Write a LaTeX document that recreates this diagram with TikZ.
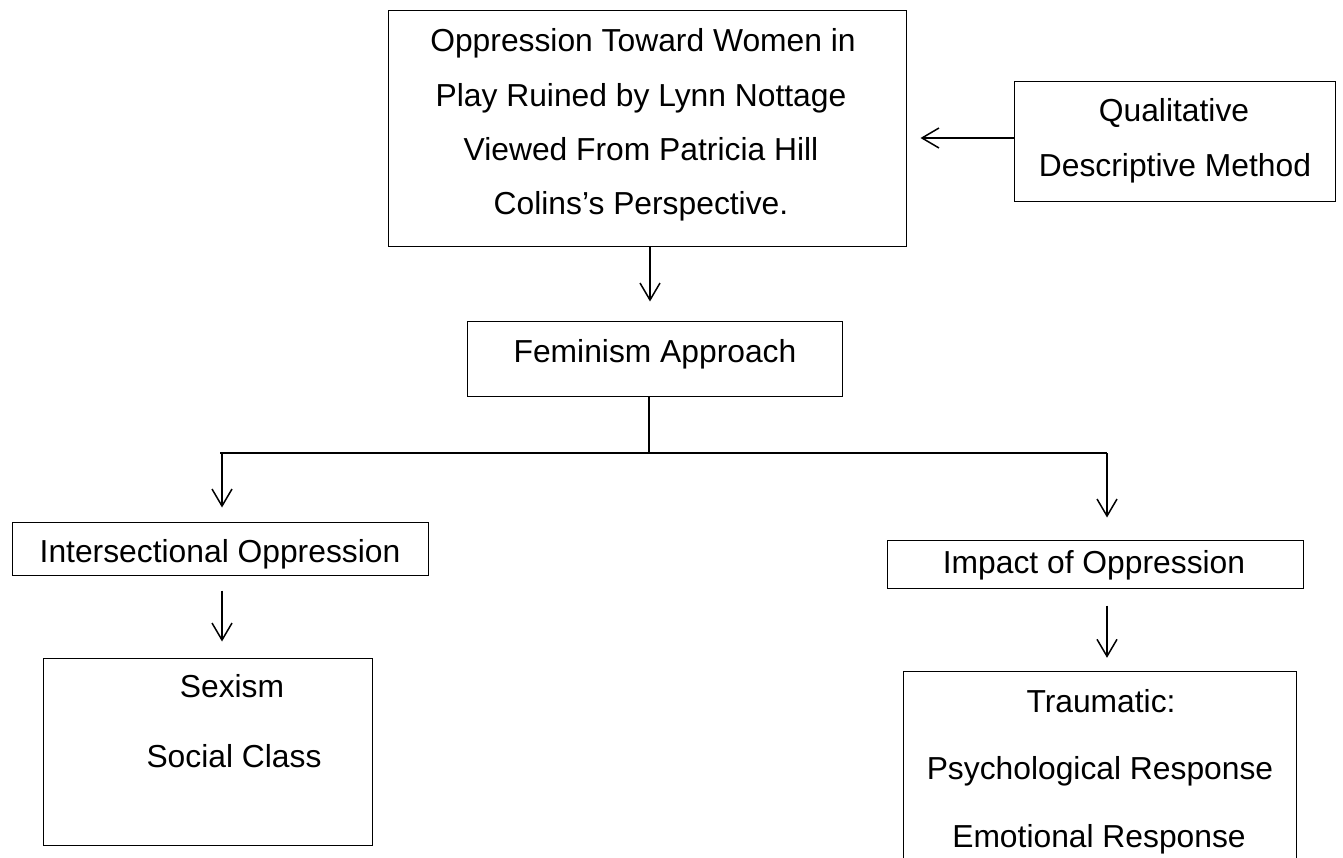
\documentclass[tikz,border=0pt]{standalone}
\usepackage{fontspec}
\setmainfont{Liberation Sans}
\usetikzlibrary{arrows.meta}
\begin{document}
\begin{tikzpicture}[x=1pt,y=-1pt,
  box/.style={draw, line width=1pt, inner sep=0pt},
  hidden/.style={inner sep=0pt},
  txt/.style={anchor=base, inner sep=0pt, font=\fontsize{31.8}{36}\selectfont},
  conn/.style={line width=1.3pt},
  arr/.style={line width=1.3pt, -{Straight Barb[length=17pt,width=20pt,line width=1.5pt]}}
]
\useasboundingbox (0,0) rectangle (1343,858);
% boxes
\node[box, minimum width=518pt, minimum height=236pt] (top) at (647,129) {};
\node[box, minimum width=321pt, minimum height=120pt] (qual) at (1174.5,142) {};
\node[box, minimum width=375pt, minimum height=74pt] (fem) at (654.5,359) {};
\node[box, minimum width=416pt, minimum height=53pt] (inter) at (220,548.5) {};
\node[box, minimum width=416pt, minimum height=48pt] (impact) at (1095,564) {};
\node[box, minimum width=329pt, minimum height=187pt] (sex) at (207.5,751.5) {};
\node[hidden, minimum width=392pt, minimum height=190pt] (trauma) at (1100,767) {};
\draw[line width=1pt] (trauma.south west) -- (trauma.north west) -- (trauma.north east) -- (trauma.south east);
% texts
\node[txt] (top1) at (643,52) {Oppression Toward Women in};
\node[txt] (top2) at (641,106.5) {Play Ruined by Lynn Nottage};
\node[txt] (top3) at (641,161) {Viewed From Patricia Hill};
\node[txt] (top4) at (641,215) {Colins’s Perspective.};
\node[txt] (qual1) at (1174,122) {Qualitative};
\node[txt] (qual2) at (1175,177) {Descriptive Method};
\node[txt] (fem1) at (655,362) {Feminism Approach};
\node[txt] (inter1) at (220,562) {Intersectional Oppression};
\node[txt] (impact1) at (1094,573) {Impact of Oppression};
\node[txt] (sex1) at (232,697) {Sexism};
\node[txt] (sex2) at (234,767) {Social Class};
\node[txt] (tr1) at (1101,712) {Traumatic:};
\node[txt] (tr2) at (1100,779) {Psychological Response};
\node[txt] (tr3) at (1099,847) {Emotional Response};
% connectors
\draw[arr, shorten >=14pt] ([yshift=4pt]qual.west) -- ([yshift=4pt]qual.west -| top.east);
\draw[arr, shorten >=20pt] ([xshift=3pt]top.south) -- ([xshift=3pt]top.south |- fem.north);
\coordinate (hub) at (649,453);
\coordinate (bl) at (222,453);
\coordinate (br) at (1107,453);
\draw[conn] (fem.south -| hub) -- (hub);
\draw[conn] ([xshift=-2pt]bl) -- (br);
\draw[arr, shorten >=14pt] (bl) -- (bl |- inter.north);
\draw[arr, shorten >=22pt] (br) -- (br |- impact.north);
\draw[arr, shorten <=15pt, shorten >=16pt] (inter.south -| bl) -- (bl |- sex.north);
\draw[arr, shorten <=17pt, shorten >=14pt] (impact.south -| br) -- (br |- trauma.north);
\end{tikzpicture}
\end{document}
